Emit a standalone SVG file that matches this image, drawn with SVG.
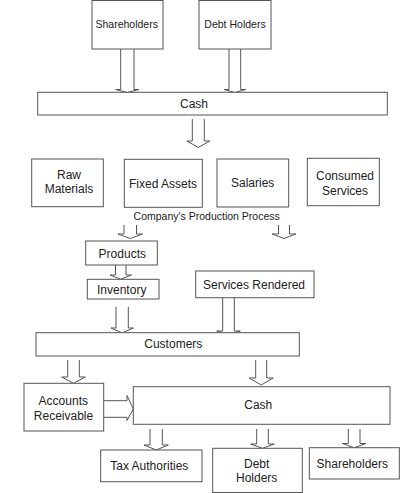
<svg xmlns="http://www.w3.org/2000/svg" width="400" height="493" viewBox="0 0 400 493">
<style>
.box{fill:#fff;stroke:#555;stroke-width:1}
.arr{fill:none;stroke:#555;stroke-width:1;stroke-linejoin:miter}
text{font-family:"Liberation Sans",Arial,sans-serif;font-size:12px;fill:#222;text-anchor:middle}
.sm{font-size:10.5px}
</style>
<rect width="400" height="493" fill="#fff"/>
<g id="connectors">
<path class="arr" d="M120.7 49V89.5H115.7L127.3 92.5L139 89.5H134V49"/>
<path class="arr" d="M229 49V89.5H224L234.8 92.5L245.7 89.5H240.7V49"/>
<path class="arr" d="M192.3 119V141H186.8L198.3 147.5L209.8 141H204.3V119"/>
<path class="arr" d="M124 225V234H118L130.2 238.5L142.5 234H136.5V225"/>
<path class="arr" d="M278.5 225V234H272L284 238.5L296 234H289.5V225"/>
<path class="arr" d="M115.5 265V275H110L120.8 279.3L131.5 275H126V265"/>
<path class="arr" d="M116 306.7V328H111L122.2 333L133.3 328H128.3V306.7"/>
<path class="arr" d="M222.7 297.7V331H216.7L228.5 334.5L240.3 331H234.3V297.7"/>
<path class="arr" d="M67.7 360V377H61.7L73.5 383.3L85.3 377H79.3V360"/>
<path class="arr" d="M255.7 360V378H249.2L261.2 385L273.2 378H266.7V360"/>
<path class="arr" d="M103.7 400.7H127V395.5L133.3 409L127 420.5V417.3H103.7"/>
<path class="arr" d="M150 429V445H144L156.2 450L168.3 445H162.3V429"/>
<path class="arr" d="M256.7 429V444H250.7L262.5 448.3L274.3 444H268.3V429"/>
<path class="arr" d="M348.3 429V443.5H342.3L354.2 447.7L366 443.5H360V429"/>
</g>
<g id="shareholders-top"><rect class="box" x="92" y="0.5" width="71" height="48.5"/><text class="sm" x="126.7" y="27.7">Shareholders</text></g>
<g id="debtholders-top"><rect class="box" x="199" y="0.5" width="72" height="48.5"/><text class="sm" x="235" y="28">Debt Holders</text></g>
<g id="cash-top"><rect class="box" x="37.7" y="92.3" width="349.6" height="22.7"/><text x="194" y="107.7">Cash</text></g>
<g id="raw-materials"><rect class="box" x="31.7" y="159" width="71.6" height="47.7"/><text x="69" y="178.5">Raw</text><text x="69" y="192.5">Materials</text></g>
<g id="fixed-assets"><rect class="box" x="124.3" y="159.3" width="78" height="48"/><text x="163" y="187.5">Fixed Assets</text></g>
<g id="salaries"><rect class="box" x="217" y="159" width="71.7" height="48"/><text x="252.7" y="186.5">Salaries</text></g>
<g id="consumed-services"><rect class="box" x="307.3" y="158.3" width="72" height="47.4"/><text x="345" y="180">Consumed</text><text x="345" y="195">Services</text></g>
<g id="production-process"><text class="sm" x="206.7" y="220.4">Company's Production Process</text></g>
<g id="products"><rect class="box" x="85.7" y="241" width="71.6" height="24"/><text x="122.3" y="257.5">Products</text></g>
<g id="inventory"><rect class="box" x="87.3" y="279.3" width="71.7" height="19.7"/><text x="121.7" y="293.5">Inventory</text></g>
<g id="services-rendered"><rect class="box" x="195.7" y="271" width="118.3" height="26.7"/><text x="254" y="288.5">Services Rendered</text></g>
<g id="customers"><rect class="box" x="36" y="332.7" width="263.3" height="23.3"/><text x="173.3" y="347.5">Customers</text></g>
<g id="accounts-receivable"><rect class="box" x="24" y="383.3" width="79.7" height="47.7"/><text x="63.3" y="405">Accounts</text><text x="63.5" y="420">Receivable</text></g>
<g id="cash-bottom"><rect class="box" x="133.3" y="386.7" width="256.7" height="37.6"/><text x="258.3" y="409.2">Cash</text></g>
<g id="tax-authorities"><rect class="box" x="100.7" y="450" width="101.3" height="31.7"/><text x="149.3" y="470.2">Tax Authorities</text></g>
<g id="debt-holders-bottom"><rect class="box" x="212.7" y="448.3" width="89.6" height="44.2"/><text x="256.7" y="467.5">Debt</text><text x="256.7" y="482">Holders</text></g>
<g id="shareholders-bottom"><rect class="box" x="309.3" y="447.7" width="90" height="31.3"/><text x="352.3" y="467.5">Shareholders</text></g>
</svg>
